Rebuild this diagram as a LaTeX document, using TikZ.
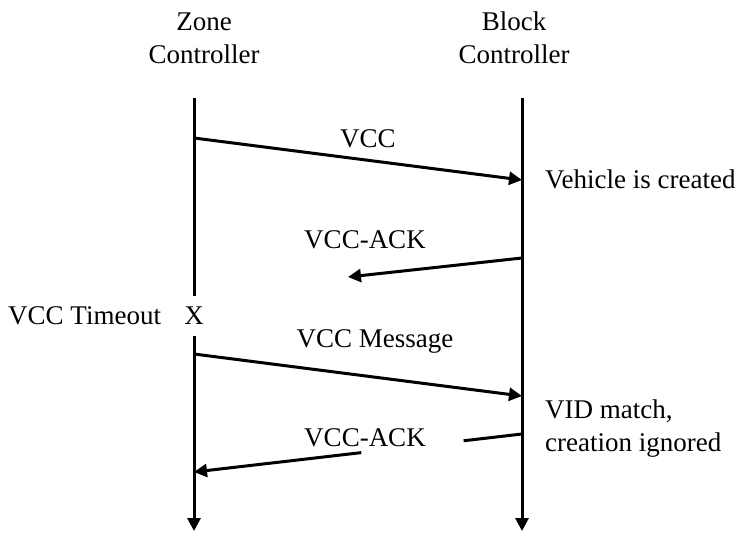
\documentclass[tikz,border=0pt]{standalone}
\usepackage{fontspec}
\setmainfont{Liberation Serif}
\usetikzlibrary{arrows.meta}
\begin{document}
\begin{tikzpicture}[x=1pt,y=-1pt,
  every node/.style={font=\fontsize{27}{33}\selectfont, inner sep=0pt},
  lifeline/.style={line width=3pt},
  msg/.style={line width=3pt},
  tip/.style={-{Triangle[length=13pt,width=13pt]}},
  hdr/.style={align=center, anchor=base},
  lbl/.style={anchor=base}]
  \useasboundingbox (0,0) rectangle (741,533);

  % participants (base anchor sits on the last line)
  \node[hdr] (zh) at (204,63) {Zone\\Controller};
  \node[hdr] (bh) at (514,63) {Block\\Controller};

  % lifeline ends
  \coordinate (zt) at (194,98);
  \coordinate (zb) at (194,531);
  \coordinate (bt) at (522,98);
  \coordinate (bb) at (522,531);

  % timeout mark on the zone controller lifeline
  \node[minimum height=40pt] (x) at (194,316) {X};
  \node[lbl, anchor=base west] (to) at (8,324) {VCC Timeout};

  \draw[lifeline] (zt) -- (x.north);
  \draw[lifeline, tip] (x.south) -- (zb);
  \draw[lifeline, tip] (bt) -- (bb);

  % message end points
  \coordinate (z1) at (194,138);
  \coordinate (b1) at (522,180);
  \coordinate (b2) at (522,258);
  \coordinate (a2) at (348,277);
  \coordinate (z3) at (194,354);
  \coordinate (b3) at (522,396);
  \coordinate (b4) at (522,434);
  \coordinate (z4) at (194,472);
  \path (b4) -- (z4) coordinate[pos=0.178] (g1) coordinate[pos=0.49] (g2);

  % messages
  \draw[msg, tip] (z1) -- (b1);
  \node[lbl] (m1) at (368,147) {VCC};
  \node[lbl, anchor=base west] (n1) at (545,188) {Vehicle is created};

  \draw[msg, tip] (b2) -- (a2);
  \node[lbl] (m2) at (365,248) {VCC-ACK};

  \draw[msg, tip] (z3) -- (b3);
  \node[lbl] (m3) at (375,347) {VCC Message};

  \draw[msg] (b4) -- (g1);
  \draw[msg, tip] (g2) -- (z4);
  \node[lbl] (m4) at (365,446) {VCC-ACK};
  \node[lbl, anchor=base west, align=left] (n2) at (545,451) {VID match,\\creation ignored};
\end{tikzpicture}
\end{document}
